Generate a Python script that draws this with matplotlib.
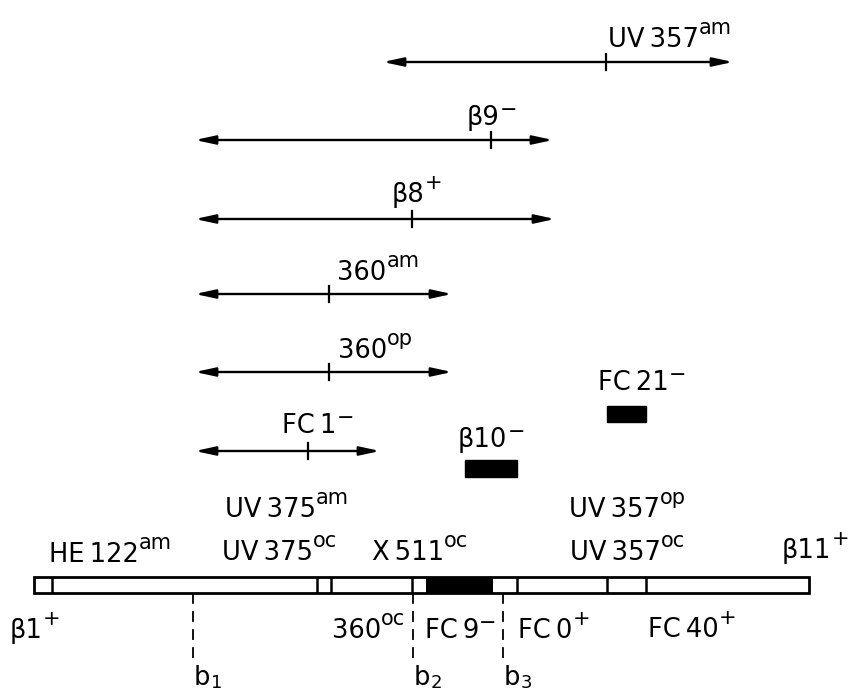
import matplotlib
matplotlib.use('Agg')
import matplotlib.pyplot as plt
from matplotlib.patches import Rectangle

plt.rcParams['font.family'] = ['DejaVu Sans']

# map positions (pixel units, y grows downward)
arrow_labels = ['UV\u2009357', 'β9', 'β8', '360', '360', 'FC\u20091']
arrow_sups = ['am', '−', '+', 'am', 'op', '−']
arrow_left = [383, 195, 195, 195, 195, 195]
arrow_right = [733, 553, 555, 452, 452, 380]
arrow_tick = [606, 491, 412, 329, 329, 308]
arrow_row = [62, 140, 219, 294, 372, 451]
arrow_label_x = [608, 467, 392, 337, 338, 282]
arrow_label_y = [47, 125, 202, 280, 358, 433]

block_labels = ['β10', 'FC\u200921']
block_sups = ['−', '−']
block_left = [465, 607]
block_right = [517, 646]
block_top = [460, 406]
block_bottom = [477, 422]
block_label_x = [458, 598]
block_label_y = [447, 390]

bar_left, bar_right = 34, 809
bar_top, bar_bottom = 577, 593
dividers = [52, 317, 331, 412, 517, 607, 646]
dark_segment = (426, 493)

top_labels = ['HE\u2009122', 'UV\u2009375', 'X\u2009511', 'UV\u2009357', 'β11',
              'UV\u2009375', 'UV\u2009357']
top_sups = ['am', 'oc', 'oc', 'oc', '+', 'am', 'op']
top_x = [49, 222, 372, 570, 782, 225, 569]
top_y = [562, 560, 560, 560, 558, 517, 517]

bottom_labels = ['β1', '360', 'FC\u20099', 'FC\u20090', 'FC\u200940']
bottom_sups = ['+', 'oc', '−', '+', '+']
bottom_x = [10, 332, 425, 518, 648]
bottom_y = [638, 638, 638, 638, 637]

break_subs = ['1', '2', '3']
break_x = [193, 413, 503]
break_end = 661
break_label_y = 685

FS = 18.5
SUP = 15
SUP_DROP = {'−': -8, '+': -5}

fig = plt.figure(figsize=(8.48, 6.95), dpi=100)
ax = fig.add_axes([0, 0, 1, 1])
ax.set_xlim(0, 848)
ax.set_ylim(695, 0)
ax.axis('off')


def label(x, y, text, sup, sub=False):
    t = ax.text(x, y, text, fontsize=FS, ha='left', va='baseline')
    if sub:
        ax.annotate(sup, xy=(1, 0), xycoords=t, xytext=(0.3, 2.5),
                    textcoords='offset points', fontsize=SUP - 2,
                    ha='left', va='baseline')
    else:
        ax.annotate(sup, xy=(1, 1), xycoords=t, xytext=(0, SUP_DROP.get(sup, -5)),
                    textcoords='offset points', fontsize=SUP,
                    ha='left', va='baseline')


# deletion ranges
for i in range(len(arrow_labels)):
    y = arrow_row[i]
    ax.annotate('', xy=(arrow_right[i], y), xytext=(arrow_left[i], y),
                arrowprops=dict(arrowstyle='<|-|>,head_length=1.2,head_width=0.26',
                                lw=1.7, color='k', shrinkA=0, shrinkB=0))
    ax.plot([arrow_tick[i]] * 2, [y - 8, y + 8], color='k', lw=1.6)
    label(arrow_label_x[i], arrow_label_y[i], arrow_labels[i], arrow_sups[i])

# small deletions
for i in range(len(block_labels)):
    ax.add_patch(Rectangle((block_left[i], block_top[i]),
                           block_right[i] - block_left[i],
                           block_bottom[i] - block_top[i],
                           facecolor='k', edgecolor='k', lw=1))
    label(block_label_x[i], block_label_y[i], block_labels[i], block_sups[i])

# the map
ax.add_patch(Rectangle((dark_segment[0], bar_top), dark_segment[1] - dark_segment[0],
                       bar_bottom - bar_top, facecolor='k', edgecolor='none'))
ax.add_patch(Rectangle((bar_left, bar_top), bar_right - bar_left, bar_bottom - bar_top,
                       facecolor='none', edgecolor='k', lw=2))
ax.vlines(dividers, bar_top, bar_bottom, color='k', lw=1.8)

for i in range(len(top_labels)):
    label(top_x[i], top_y[i], top_labels[i], top_sups[i])
for i in range(len(bottom_labels)):
    label(bottom_x[i], bottom_y[i], bottom_labels[i], bottom_sups[i])

# breakpoints
for i in range(len(break_x)):
    ax.plot([break_x[i]] * 2, [bar_bottom, break_end], color='k', lw=1.3,
            linestyle=(0, (6, 4)))
    label(break_x[i] + 1, break_label_y, 'b', break_subs[i], sub=True)

fig.savefig('out.png', dpi=100)
